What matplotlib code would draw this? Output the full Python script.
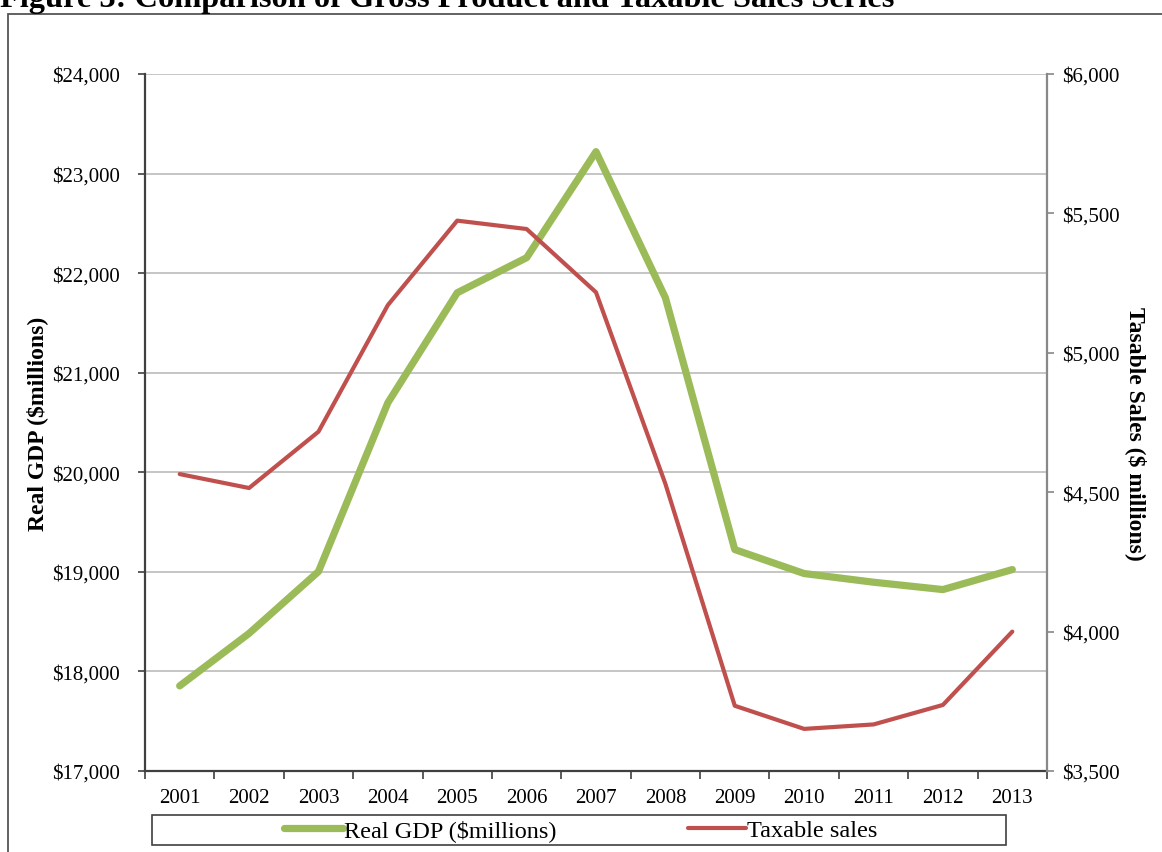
import matplotlib
matplotlib.use("Agg")
import matplotlib.pyplot as plt
import matplotlib.patches as patches
import numpy as np
from matplotlib.ticker import FuncFormatter, MultipleLocator, FixedLocator

plt.rcParams["font.family"] = ["Liberation Serif", "DejaVu Serif"]

# data
years = ["2001", "2002", "2003", "2004", "2005", "2006", "2007",
         "2008", "2009", "2010", "2011", "2012", "2013"]
real_gdp = [17855, 18382, 19003, 20698, 21803, 22155, 23220,
            21753, 19224, 18983, 18896, 18822, 19023]
taxable_sales = [4565, 4515, 4717, 5171, 5474, 5444, 5217,
                 4530, 3734, 3651, 3667, 3737, 4000]

green = "#9BBB59"
red = "#C0504D"
W, H = 1162, 853

fig = plt.figure(figsize=(W / 100, H / 100), dpi=100)
ax = fig.add_axes([145 / W, 1 - 772 / H, (1047 - 145) / W, (772 - 75) / H])
ax2 = ax.twinx()

x = np.arange(len(years))
ax.plot(x, real_gdp, color=green, lw=5.2, solid_joinstyle="round",
        solid_capstyle="round", label="Real GDP ($millions)", zorder=3)
ax2.plot(x, taxable_sales, color=red, lw=3.0, solid_joinstyle="round",
         solid_capstyle="round", label="Taxable sales", zorder=3)

# primary axis
ax.set_xlim(-0.5, len(years) - 0.5)
ax.set_ylim(17000, 24000)
ax.yaxis.set_major_locator(MultipleLocator(1000))
ax.yaxis.set_major_formatter(FuncFormatter(lambda v, p: f"${v:,.0f}"))
ax.grid(axis="y", color="#c0c0c0", lw=1.3, zorder=0)
ax.set_axisbelow(True)
ax.set_xticks(x)
ax.set_xticklabels(years)
ax.xaxis.set_minor_locator(FixedLocator(np.arange(-0.5, len(years), 1.0)))
ax.tick_params(axis="x", which="major", length=0, pad=12, labelsize=15)
ax.tick_params(axis="x", which="minor", length=6, width=1.2, color="#404040")
ax.tick_params(axis="y", length=5, width=1.2, color="#404040", pad=13, labelsize=15)

for s in ["top", "right"]:
    ax.spines[s].set_visible(False)
for s in ["left", "bottom"]:
    ax.spines[s].set_color("#404040")
    ax.spines[s].set_linewidth(1.6)

ax.set_ylabel("Real GDP ($millions)", fontsize=17, fontweight="bold")
ax.yaxis.set_label_coords(-0.108, 0.5)

# secondary axis
ax2.set_ylim(3500, 6000)
ax2.yaxis.set_major_locator(MultipleLocator(500))
ax2.yaxis.set_major_formatter(FuncFormatter(lambda v, p: f"${v:,.0f}"))
ax2.tick_params(axis="y", length=5, width=1.2, color="#888888", pad=6, labelsize=15)
for s in ["top", "left", "bottom"]:
    ax2.spines[s].set_visible(False)
ax2.spines["right"].set_color("#888888")
ax2.spines["right"].set_linewidth(1.6)
ax2.set_ylabel("Tasable Sales ($ millions)", fontsize=17, fontweight="bold",
               rotation=-90, va="center")
ax2.yaxis.set_label_coords(1.099, 0.485)

# legend with its own box
h1, l1 = ax.get_legend_handles_labels()
h2, l2 = ax2.get_legend_handles_labels()
fig.legend(h1 + h2, l1 + l2, loc="center", ncol=2, frameon=False,
           bbox_to_anchor=(581 / W, 1 - 831 / H), fontsize=17.5,
           handlelength=2.4, handletextpad=0.05, columnspacing=5.4)
fig.patches.append(patches.Rectangle(
    (152 / W, 1 - 846 / H), (1006 - 152) / W, 30 / H,
    transform=fig.transFigure, fill=False, edgecolor="#404040", lw=1.2))

# outer frame and title
fig.patches.append(patches.Rectangle(
    (8 / W, -0.02), 1.05, 1 - 15 / H + 0.02,
    transform=fig.transFigure, fill=False, edgecolor="#555555", lw=1.3))
fig.text(0, 1 - 7 / H, "Figure 3: Comparison of Gross Product and Taxable Sales Series",
         fontsize=23.3, fontweight="bold", ha="left", va="baseline")

fig.savefig("out.png", dpi=100)
